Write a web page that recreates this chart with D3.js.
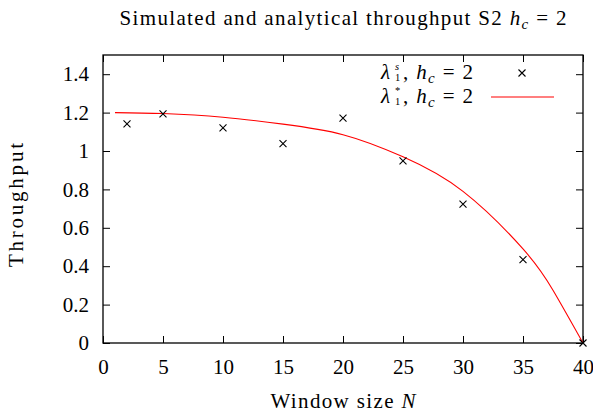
<!DOCTYPE html>
<html>
<head>
<meta charset="utf-8">
<script src="https://cdn.jsdelivr.net/npm/d3@7"></script>
<style>
  body { margin: 0; background: #fff; }
  svg text { font-family: "Liberation Serif", "DejaVu Serif", serif; fill: #000; }
</style>
</head>
<body>
<div id="chart"></div>
<script>
// simulated throughput (crosses)
var simN = [2, 5, 10, 15, 20, 25, 30, 35, 40];
var simThroughput = [1.141, 1.193, 1.12, 1.038, 1.171, 0.949, 0.723, 0.434, 0];

// analytical throughput (red line)
var anaN = [1, 5, 10, 15, 20, 25, 30, 35, 37.5, 40];
var anaThroughput = [1.2, 1.195, 1.176, 1.14, 1.085, 0.97, 0.79, 0.49, 0.275, 0];

var xTicks = [0, 5, 10, 15, 20, 25, 30, 35, 40];
var yTicks = [0, 0.2, 0.4, 0.6, 0.8, 1, 1.2, 1.4];

var width = 593, height = 415;
var margin = {top: 55, right: 10, bottom: 72, left: 103};

var svg = d3.select("#chart").append("svg")
    .attr("width", width)
    .attr("height", height);

var x = d3.scaleLinear().domain([0, 40]).range([margin.left, width - margin.right]);
var y = d3.scaleLinear().domain([0, 1.5]).range([height - margin.bottom, margin.top]);

var fontSize = 21;
var tick = 7;

/* axes, ticks inside and mirrored */
svg.append("g")
    .attr("transform", "translate(0," + y(0) + ")")
    .call(d3.axisBottom(x).tickValues(xTicks).tickSizeInner(-tick).tickSizeOuter(0).tickPadding(16));

svg.append("g")
    .attr("transform", "translate(" + x(0) + ",0)")
    .call(d3.axisLeft(y).tickValues(yTicks).tickSizeInner(-tick).tickSizeOuter(0).tickPadding(14)
        .tickFormat(function(d) { return d3.format("")(+d.toFixed(1)); }));

svg.append("g")
    .attr("transform", "translate(0," + y(1.5) + ")")
    .call(d3.axisTop(x).tickValues(xTicks).tickSizeInner(-tick).tickSizeOuter(0).tickFormat(""));

svg.append("g")
    .attr("transform", "translate(" + x(40) + ",0)")
    .call(d3.axisRight(y).tickValues(yTicks).tickSizeInner(-tick).tickSizeOuter(0).tickFormat(""));

svg.selectAll(".domain").remove();
svg.selectAll(".tick line").attr("stroke", "#000").attr("stroke-width", 1);
svg.selectAll(".tick text")
    .attr("font-size", fontSize)
    .attr("font-family", "Liberation Serif, serif");

svg.append("rect")
    .attr("x", x(0))
    .attr("y", y(1.5))
    .attr("width", x(40) - x(0))
    .attr("height", y(0) - y(1.5))
    .attr("fill", "none")
    .attr("stroke", "#000")
    .attr("stroke-width", 1.3);

/* analytical curve */
var line = d3.line()
    .x(function(d, i) { return x(anaN[i]); })
    .y(function(d) { return y(d); })
    .curve(d3.curveNatural);

svg.append("path")
    .datum(anaThroughput)
    .attr("d", line)
    .attr("fill", "none")
    .attr("stroke", "#ff0000")
    .attr("stroke-width", 1.1);

/* simulated crosses */
function cross(g, cx, cy) {
    var s = 3.5;
    g.append("path")
        .attr("d", "M" + (cx - s) + "," + (cy - s) + "L" + (cx + s) + "," + (cy + s) +
                   "M" + (cx - s) + "," + (cy + s) + "L" + (cx + s) + "," + (cy - s))
        .attr("stroke", "#000")
        .attr("stroke-width", 1.1)
        .attr("fill", "none");
}

var marks = svg.append("g");
simThroughput.forEach(function(v, i) { cross(marks, x(simN[i]), y(v)); });

/* titles */
var title = svg.append("text")
    .attr("x", (x(0) + x(40)) / 2)
    .attr("y", 25)
    .attr("text-anchor", "middle")
    .attr("font-size", fontSize)
    .attr("textLength", 447)
    .attr("lengthAdjust", "spacing");
title.append("tspan").text("Simulated and analytical throughput S2 ");
title.append("tspan").attr("font-style", "italic").text("h");
title.append("tspan").attr("font-style", "italic").attr("font-size", 15).attr("dy", 4).text("c");
title.append("tspan").attr("dy", -4).text(" = 2");

var xlabel = svg.append("text")
    .attr("x", (x(0) + x(40)) / 2)
    .attr("y", 408)
    .attr("text-anchor", "middle")
    .attr("font-size", fontSize)
    .attr("textLength", 145)
    .attr("lengthAdjust", "spacing");
xlabel.append("tspan").text("Window size ");
xlabel.append("tspan").attr("font-style", "italic").text("N");

svg.append("text")
    .attr("transform", "translate(23," + 205 + ") rotate(-90)")
    .attr("text-anchor", "middle")
    .attr("font-size", fontSize)
    .attr("textLength", 124)
    .attr("lengthAdjust", "spacing")
    .text("Throughput");

/* legend */
var legend = [
    {sup: "s", type: "point", y: 79},
    {sup: "*", type: "line", y: 103}
];
legend.forEach(function(d) {
    var g = svg.append("g");
    var sym = g.append("text")
        .attr("x", 381).attr("y", d.y)
        .attr("font-size", fontSize);
    sym.append("tspan").attr("font-style", "italic").text("λ");
    sym.append("tspan")
        .attr("x", 395).attr("dy", -9.5)
        .attr("font-size", 10.5)
        .attr("font-style", d.sup === "s" ? "italic" : "normal")
        .text(d.sup);
    sym.append("tspan")
        .attr("x", 395).attr("dy", 11.8)
        .attr("font-size", 10.5)
        .text("1");
    var t = g.append("text")
        .attr("x", 403).attr("y", d.y)
        .attr("font-size", fontSize)
        .attr("textLength", 70)
        .attr("lengthAdjust", "spacing");
    t.append("tspan").text(", ");
    t.append("tspan").attr("font-style", "italic").text("h");
    t.append("tspan").attr("font-style", "italic").attr("font-size", 15).attr("dy", 4).text("c");
    t.append("tspan").attr("dy", -4).text(" = 2");
    if (d.type === "point") {
        cross(svg, 522, d.y - 6);
    } else {
        svg.append("line")
            .attr("x1", 491).attr("x2", 554)
            .attr("y1", d.y - 6).attr("y2", d.y - 6)
            .attr("stroke", "#ff0000")
            .attr("stroke-width", 1.1);
    }
});
</script>
</body>
</html>
